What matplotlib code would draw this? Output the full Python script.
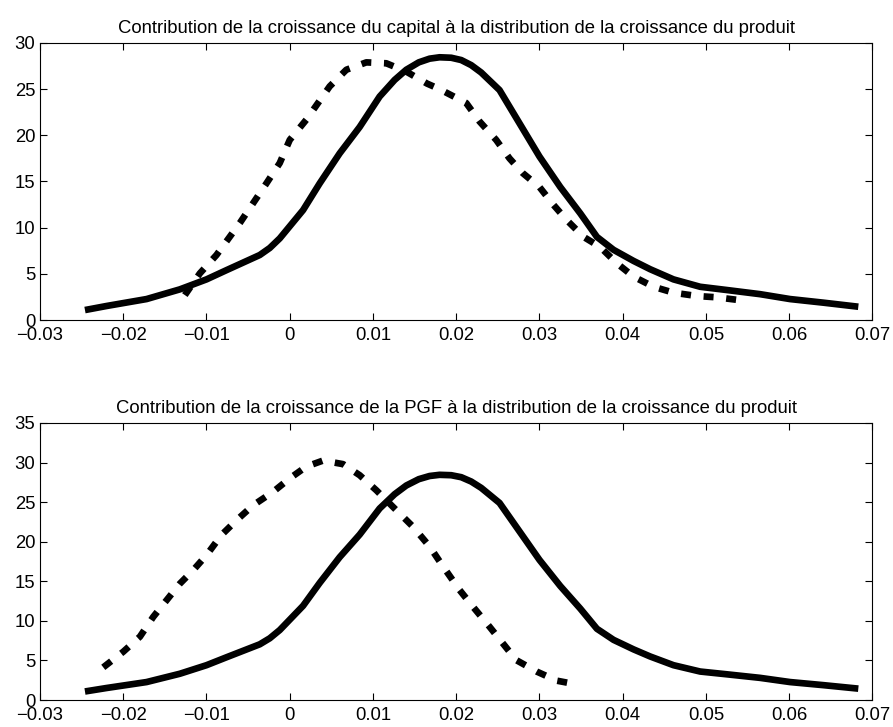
import matplotlib
matplotlib.use("Agg")
from matplotlib import pyplot as plt

plt.rcParams['font.family'] = ['Liberation Sans', 'DejaVu Sans']

# output growth density (solid, same in both panels)
prod_x = [-0.0246, -0.0220, -0.0172, -0.0132, -0.0100, -0.0076, -0.0036, -0.0024, -0.0012, 0.0016, 0.0036,
          0.0060, 0.0084, 0.0108, 0.0126, 0.0140, 0.0155, 0.0168, 0.0180, 0.0194, 0.0206, 0.0218, 0.0230, 0.0252, 0.0276,
          0.0300, 0.0325, 0.0349, 0.0369, 0.0389, 0.0413, 0.0433, 0.0461, 0.0493, 0.0525,
          0.0565, 0.0601, 0.0641, 0.0683]
prod_y = [1.08, 1.52, 2.27, 3.32, 4.4, 5.4, 7.04, 7.8, 8.84, 11.9, 14.8,
          18.05, 20.9, 24.2, 26.0, 27.1, 27.9, 28.3, 28.45, 28.4, 28.15, 27.6, 26.8, 24.9, 21.3,
          17.7, 14.4, 11.55, 9.0, 7.6, 6.4, 5.5, 4.4, 3.6, 3.25,
          2.8, 2.27, 1.88, 1.44]

# capital contribution (dashed, top)
cap_x = [-0.0126, -0.0108, -0.0088, -0.0060, -0.0028, -0.0012, 0.0, 0.0020, 0.0048, 0.0068,
         0.0092, 0.0116, 0.0140, 0.0165, 0.0180, 0.0212, 0.0228, 0.0248, 0.0264, 0.0280,
         0.0300, 0.0317, 0.0333, 0.0353, 0.0373, 0.0393, 0.0413, 0.0437, 0.0461, 0.0489,
         0.0513, 0.0545]
cap_y = [2.7, 5.05, 7.04, 10.5, 14.8, 17.0, 19.5, 21.7, 25.3, 27.1,
         27.9, 27.8, 26.9, 25.6, 25.0, 23.5, 21.5, 19.5, 17.5, 15.9,
         14.4, 12.45, 10.8, 9.0, 7.9, 6.14, 4.7, 3.6, 2.96, 2.6,
         2.46, 2.1]

# PGF contribution (dashed, bottom)
pgf_x = [-0.0224, -0.0200, -0.0180, -0.0164, -0.0148, -0.0132, -0.0116, -0.0100, -0.0082, -0.0064,
         -0.0044, -0.0020, 0.0, 0.0020, 0.0040, 0.0064, 0.0084, 0.0104, 0.0124, 0.0148,
         0.0168, 0.0184, 0.0204, 0.0220, 0.0240, 0.0256, 0.0272, 0.0297, 0.0321, 0.0338]
pgf_y = [4.13, 6.1, 8.0, 10.5, 12.6, 14.7, 16.4, 18.3, 20.85, 22.7,
         24.6, 26.3, 28.0, 29.5, 30.25, 29.8, 28.4, 26.5, 24.4, 21.9,
         19.4, 16.9, 13.9, 11.8, 9.26, 7.16, 5.05, 3.58, 2.44, 2.1]

titles = ["Contribution de la croissance du capital à la distribution de la croissance du produit",
          "Contribution de la croissance de la PGF à la distribution de la croissance du produit"]
xticks = [-0.03, -0.02, -0.01, 0, 0.01, 0.02, 0.03, 0.04, 0.05, 0.06, 0.07]
xlabels = ["\u22120.03", "\u22120.02", "\u22120.01", "0", "0.01", "0.02", "0.03", "0.04", "0.05", "0.06", "0.07"]

fig = plt.figure(figsize=(8.93, 7.27), dpi=100)
ax1 = fig.add_axes([0.0448, 0.5598, 0.9322, 0.3811])
ax2 = fig.add_axes([0.0448, 0.0371, 0.9322, 0.3811])

panels = [(ax1, cap_x, cap_y, 30, range(0, 31, 5)),
          (ax2, pgf_x, pgf_y, 35, range(0, 36, 5))]
for ax, dx, dy, ymax, yt in panels:
    ax.plot(prod_x, prod_y, color='black', lw=4.8, solid_capstyle='butt', solid_joinstyle='round')
    ax.plot(dx, dy, color='black', lw=4.8, linestyle=(0, (1.5, 1.9)), dash_capstyle='butt')
    ax.set_xlim(-0.03, 0.07)
    ax.set_ylim(0, ymax)
    ax.set_xticks(xticks)
    ax.set_xticklabels(xlabels)
    ax.set_yticks(list(yt))
    ax.tick_params(direction='in', top=True, right=True, length=5, width=0.8, labelsize=13.3, pad=3.5)
    ax.tick_params(axis='x', pad=5)
    for s in ax.spines.values():
        s.set_linewidth(0.8)

ax1.set_title(titles[0], fontsize=13.3, pad=7)
ax2.set_title(titles[1], fontsize=13.3, pad=7)

plt.savefig("out.png", dpi=100)
